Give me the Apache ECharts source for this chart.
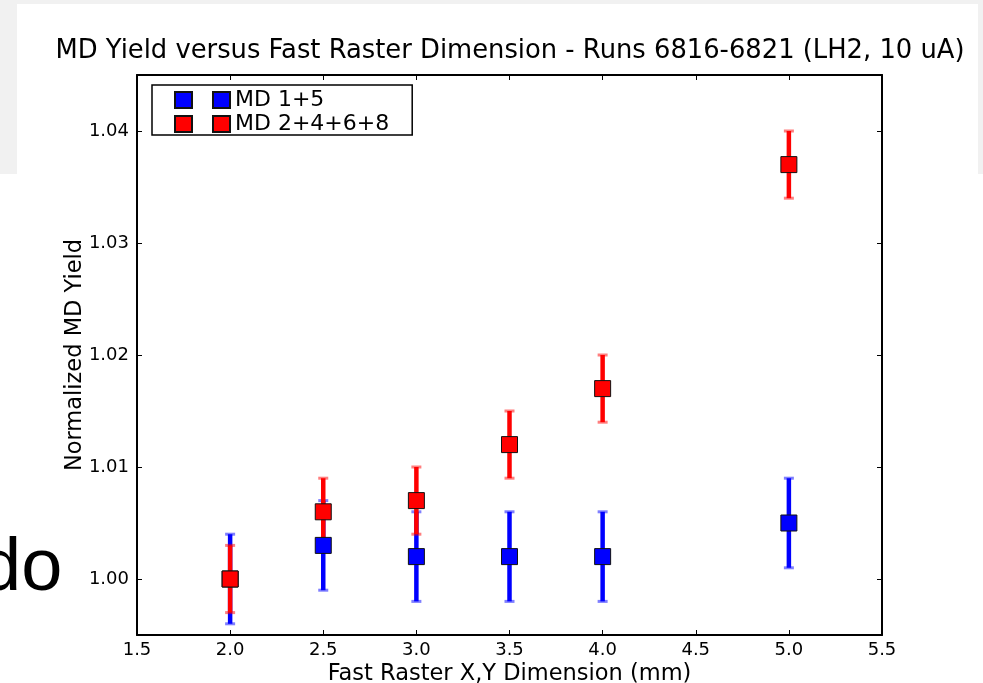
<!DOCTYPE html>
<html>
<head>
<meta charset="utf-8">
<script src="https://cdn.jsdelivr.net/npm/echarts@6/dist/echarts.min.js"></script>
<style>
  html, body { margin: 0; padding: 0; background: #fff; overflow: hidden; }
  #chart { width: 983px; height: 683px; }
</style>
</head>
<body>
<div id="chart"></div>
<script>
// raster size (mm)
const rasterMd15 = [2.0, 2.5, 3.0, 3.5, 4.0, 5.0]
const yieldMd15 = [1.000, 1.003, 1.002, 1.002, 1.002, 1.005]
const errMd15 = [0.004, 0.004, 0.004, 0.004, 0.004, 0.004]

const rasterMd2468 = [2.0, 2.5, 3.0, 3.5, 4.0, 5.0]
const yieldMd2468 = [1.000, 1.006, 1.007, 1.012, 1.017, 1.037]
const errMd2468 = [0.003, 0.003, 0.003, 0.003, 0.003, 0.003]

const seriesNames = ['MD 1+5', 'MD 2+4+6+8']
const titleText = 'MD Yield versus Fast Raster Dimension - Runs 6816-6821 (LH2, 10 uA)'
const font = 'DejaVu Sans'

const chart = echarts.init(document.getElementById('chart'))

function errorBars(name, xs, ys, es, color) {
  return {
    name: name,
    type: 'custom',
    z: 3,
    silent: true,
    data: xs.map((x, i) => [x, ys[i], es[i]]),
    encode: { x: 0, y: 1 },
    renderItem(params, api) {
      const x = api.value(0), y = api.value(1), e = api.value(2)
      const hi = api.coord([x, y + e])
      const lo = api.coord([x, y - e])
      const cap = 5
      return {
        type: 'group',
        children: [
          { type: 'line', shape: { x1: hi[0], y1: hi[1], x2: lo[0], y2: lo[1] },
            style: { stroke: color, lineWidth: 4.5 } },
          { type: 'line', shape: { x1: hi[0] - cap, y1: hi[1], x2: hi[0] + cap, y2: hi[1] },
            style: { stroke: color, lineWidth: 3, opacity: 0.5 } },
          { type: 'line', shape: { x1: lo[0] - cap, y1: lo[1], x2: lo[0] + cap, y2: lo[1] },
            style: { stroke: color, lineWidth: 3, opacity: 0.5 } }
        ]
      }
    }
  }
}

function markers(name, xs, ys, color, z) {
  return {
    name: name,
    type: 'scatter',
    z: z,
    symbol: 'rect',
    symbolSize: 16,
    itemStyle: { color: color, opacity: 1, borderColor: '#111', borderWidth: 1 },
    emphasis: { disabled: true },
    data: xs.map((x, i) => [x, ys[i]])
  }
}

const axisCommon = {
  axisLine: { onZero: false, lineStyle: { color: '#000', width: 2 } },
  axisTick: { inside: true, length: 5, lineStyle: { color: '#000', width: 1 } },
  splitLine: { show: false }
}

chart.setOption({
  animation: false,
  backgroundColor: '#fff',
  textStyle: { fontFamily: font },
  graphic: [
    { type: 'rect', z: -10, silent: true, shape: { x: 0, y: 0, width: 983, height: 174 },
      style: { fill: '#f1f1f1' } },
    { type: 'rect', z: -9, silent: true, shape: { x: 17, y: 4, width: 961, height: 679 },
      style: { fill: '#fff' } },
    { type: 'text', z: -8, silent: true, left: -20, top: 533,
      style: { text: 'do', fill: '#000', font: '74px "Liberation Sans"' } }
  ],
  title: {
    text: titleText,
    left: 505,
    top: 33,
    textAlign: 'center',
    textStyle: { fontFamily: font, fontWeight: 'normal', fontSize: 25.8, color: '#000' }
  },
  legend: {
    orient: 'vertical',
    left: 152,
    top: 85,
    padding: [4, 23, 0, 22],
    itemGap: 2,
    itemWidth: 55,
    itemHeight: 16,
    icon: 'path://M0,0h17v16h-17z M38,0h17v16h-17z',
    borderColor: '#000',
    borderWidth: 1.5,
    backgroundColor: '#fff',
    selectedMode: false,
    data: seriesNames,
    textStyle: { fontFamily: font, fontSize: 22, color: '#000' }
  },
  grid: { left: 137, width: 745, top: 75, height: 560, containLabel: false, outerBoundsMode: 'none' },
  xAxis: [
    Object.assign({}, axisCommon, {
      type: 'value', min: 1.5, max: 5.5, interval: 0.5,
      name: 'Fast Raster X,Y Dimension (mm)', nameLocation: 'middle', nameGap: 28,
      nameMoveOverlap: false,
      nameTextStyle: { fontFamily: font, fontSize: 22.5, color: '#000' },
      axisLabel: { margin: 6, fontFamily: font, fontSize: 18, color: '#000',
        formatter: v => v.toFixed(1) }
    }),
    Object.assign({}, axisCommon, {
      type: 'value', min: 1.5, max: 5.5, interval: 0.5, position: 'top',
      axisLabel: { show: false }
    })
  ],
  yAxis: [
    Object.assign({}, axisCommon, {
      type: 'value', min: 0.995, max: 1.045, splitNumber: 5,
      name: 'Normalized MD Yield', nameLocation: 'middle', nameGap: 50, nameRotate: 90,
      nameMoveOverlap: false,
      nameTextStyle: { fontFamily: font, fontSize: 22.5, color: '#000' },
      axisLabel: { margin: 8, fontFamily: font, fontSize: 18, color: '#000',
        formatter: v => Math.abs(v * 100 - Math.round(v * 100)) < 1e-6 ? v.toFixed(2) : '' }
    }),
    Object.assign({}, axisCommon, {
      type: 'value', min: 0.995, max: 1.045, splitNumber: 5, position: 'right',
      axisLabel: { show: false }
    })
  ],
  series: [
    errorBars(seriesNames[0] + ' err', rasterMd15, yieldMd15, errMd15, '#0000ff'),
    markers(seriesNames[0], rasterMd15, yieldMd15, '#0000ff', 4),
    errorBars(seriesNames[1] + ' err', rasterMd2468, yieldMd2468, errMd2468, '#ff0000'),
    markers(seriesNames[1], rasterMd2468, yieldMd2468, '#ff0000', 5)
  ]
})
</script>
</body>
</html>
